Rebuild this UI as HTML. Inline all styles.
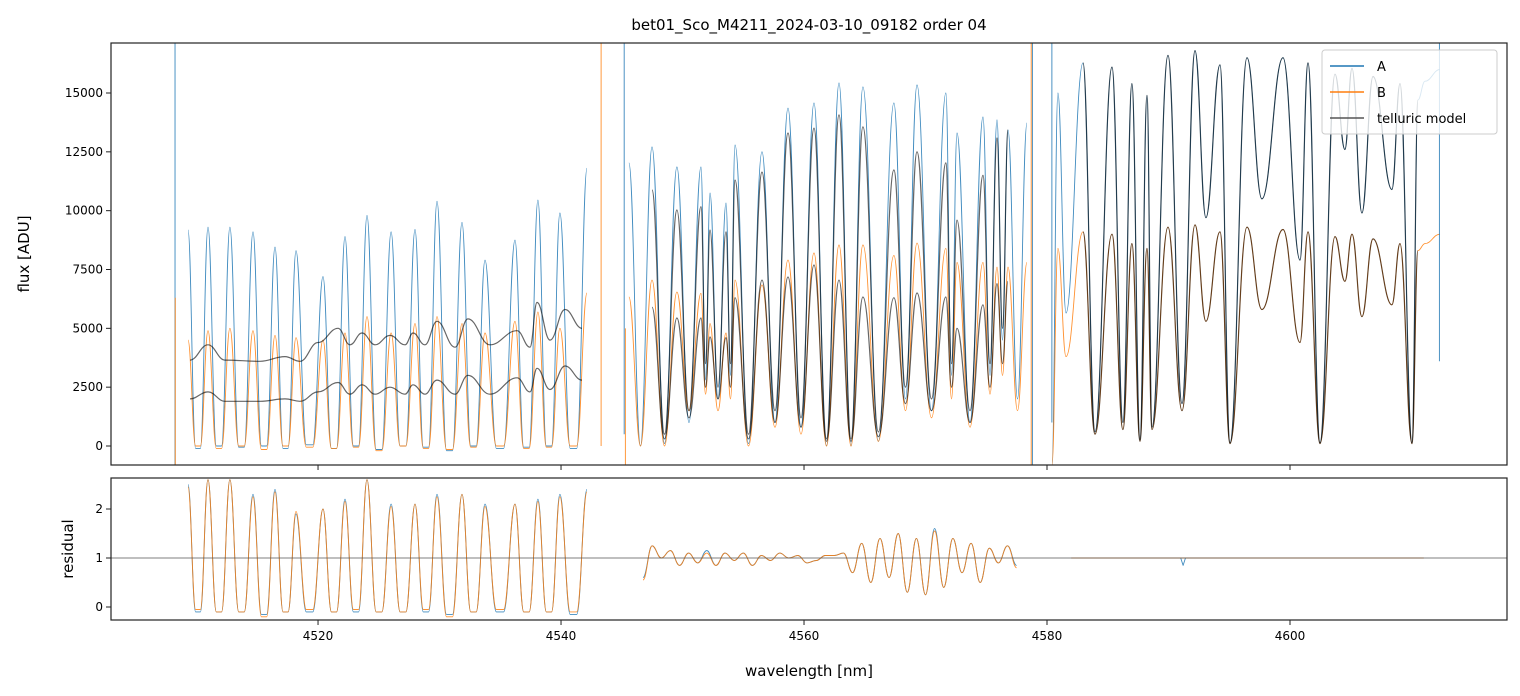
<!DOCTYPE html>
<html><head><meta charset="utf-8">
<style>
html,body{margin:0;padding:0;background:#fff;}
svg{display:block;font-family:"DejaVu Sans","Liberation Sans",sans-serif;}
</style></head>
<body>
<svg id="chart" width="1520" height="696" viewBox="0 0 1520 696" xmlns="http://www.w3.org/2000/svg">
<defs>
<clipPath id="clipTop"><rect x="111" y="43" width="1396" height="422"/></clipPath>
<clipPath id="clipBot"><rect x="111" y="478" width="1396" height="142"/></clipPath>
</defs>
<text x="809" y="30" font-size="15" text-anchor="middle">bet01_Sco_M4211_2024-03-10_09182  order 04</text>
<g id="topMarks" clip-path="url(#clipTop)"></g>
<g id="botMarks" clip-path="url(#clipBot)"></g>
<g id="axes"></g>
<text transform="translate(29,254) rotate(-90)" font-size="15" text-anchor="middle">flux [ADU]</text>
<text transform="translate(73,549) rotate(-90)" font-size="15" text-anchor="middle">residual</text>
<text x="809" y="676" font-size="15" text-anchor="middle">wavelength [nm]</text>
<g>
<rect x="1322" y="50" width="175" height="84" rx="3" fill="#fff" fill-opacity="0.8" stroke="#ccc" stroke-width="1"/>
<line x1="1330" y1="66" x2="1364" y2="66" stroke="#1f77b4" stroke-width="1.5"/>
<text x="1377" y="71" font-size="13">A</text>
<line x1="1330" y1="92" x2="1364" y2="92" stroke="#ff7f0e" stroke-width="1.5"/>
<text x="1377" y="97" font-size="13">B</text>
<line x1="1330" y1="118" x2="1364" y2="118" stroke="#555" stroke-width="1.5"/>
<text x="1377" y="123" font-size="13">telluric model</text>
</g>
</svg>
<script>
// ---------- axis ticks ----------
const xTicks = [4520, 4540, 4560, 4580, 4600];
const yTicksTop = [0, 2500, 5000, 7500, 10000, 12500, 15000];
const yTicksBot = [0, 1, 2];

// ---------- segment 1 (fringe region) ----------
const seg1PeakWl = [4509.30,4510.94,4512.75,4514.65,4516.46,4518.19,4520.41,4522.22,4524.03,4526.01,4527.98,4529.79,4531.85,4533.74,4536.21,4538.10,4539.91,4542.14];
const seg1PeakA = [9180,9300,9300,9100,8450,8300,7200,8900,9800,9100,9200,10400,9500,7900,8750,10450,9900,11800];
const seg1TroughA = [-100,0,-50,0,-100,50,-100,0,-150,0,-50,-200,0,-100,-50,0,-100];
const seg1PeakB = [4500,4900,5000,4900,4700,4600,4500,4800,5500,4800,5200,5500,5200,4800,5300,5700,5000,6500];
const seg1TroughB = [0,-100,0,-150,0,-50,-100,-50,-200,0,-100,-150,-50,0,-100,-50,0];
const tell1Wl = [4509.46,4510.94,4512.34,4515.22,4517.28,4518.52,4520.00,4521.64,4522.63,4523.62,4524.69,4525.92,4527.16,4527.82,4528.80,4529.79,4531.27,4532.34,4534.15,4536.38,4537.45,4538.02,4539.09,4540.33,4541.73];
const tell1Upper = [3650,4300,3650,3600,3800,3600,4400,5000,4300,4800,4300,4700,4300,4800,4300,5300,4200,5400,4300,4900,4200,6100,4500,5800,5000];
const tell1Lower = [2000,2300,1900,1900,2000,1900,2300,2700,2200,2600,2200,2500,2200,2600,2200,2800,2200,3000,2200,2900,2300,3300,2400,3400,2800];

// ---------- segment 2 ----------
const seg2PeakWl = [4545.59,4547.49,4549.54,4551.52,4552.26,4553.58,4554.32,4556.54,4558.68,4560.82,4562.88,4564.85,4567.40,4569.30,4571.68,4572.59,4574.73,4575.88,4576.79,4578.35];
const seg2PeakA = [12030,12710,11860,11860,10750,10330,12790,12500,14360,14580,15430,15260,14580,15340,15000,13300,13980,13860,13430,13730];
const seg2TroughA = [0,100,1000,2800,2000,3000,100,1000,800,0,0,200,2000,1500,3000,1000,3000,4500,2000];
const seg2PeakB = [6330,7050,6540,6490,5200,4800,7050,6840,7900,8200,8540,8540,8100,8620,8400,7800,7800,7600,7600,7800];
const seg2TroughB = [0,0,1500,2200,1500,2000,0,800,500,0,0,200,1500,1200,2000,800,2200,3000,1500];
const tell2PeakUpper = [10880,10030,10170,9180,9100,11300,11640,13300,13510,14070,13560,11730,12500,12030,9600,11500,13090,13430];
const tell2TroughUpper = [500,1500,3500,2500,3500,500,1500,1200,300,300,600,2500,2000,3500,1500,3500,5000];
const tell2PeakLower = [5900,5440,5440,4630,4600,6300,7050,7180,7690,7050,6330,6300,6500,6330,5000,6000,6900,7000];
const tell2TroughLower = [300,1200,2500,2000,2500,300,1000,800,200,200,400,1800,1500,2500,1000,2500,3500];

// ---------- segment 3 ----------
const seg3Wl = [4580.41,4580.90,4581.56,4582.96,4583.95,4585.35,4586.25,4586.99,4587.65,4588.23,4588.64,4589.96,4591.11,4592.18,4593.08,4594.24,4595.06,4596.46,4597.69,4599.42,4600.82,4601.48,4602.47,4603.70,4604.52,4605.10,4605.92,4606.83,4608.39,4609.05,4610.04,4610.53,4611.11,4612.34];
const seg3A = [-800,15000,5650,16280,600,16100,1000,15400,250,14900,800,16600,1800,16800,9700,16200,130,16500,10500,16500,7900,16280,130,15800,12600,16050,9900,15700,10900,15400,130,14700,15500,16000];
const seg3B = [-800,8400,3800,9100,500,9000,700,8600,200,8400,700,9300,1500,9400,5300,9100,100,9300,5800,9200,4400,9100,100,8900,7000,9000,5500,8800,6000,8600,100,8300,8600,9000];

// ---------- residuals ----------
const res1PeakA = [2.5,2.6,2.6,2.3,2.4,1.9,2.0,2.2,2.6,2.1,2.1,2.3,2.3,2.1,2.1,2.2,2.3,2.4];
const res1TroughA = [-0.1,-0.1,-0.1,-0.15,-0.1,-0.1,-0.1,-0.1,-0.1,-0.1,-0.1,-0.15,-0.1,-0.1,-0.1,-0.1,-0.15];
const res1PeakB = [2.45,2.6,2.6,2.25,2.35,1.95,2.0,2.15,2.6,2.05,2.1,2.25,2.3,2.05,2.1,2.15,2.25,2.35];
const res1TroughB = [-0.05,-0.1,-0.1,-0.2,-0.1,-0.05,-0.1,-0.05,-0.1,-0.1,-0.05,-0.2,-0.1,-0.05,-0.1,-0.1,-0.1];
const res2Start = 4546.75, res2Step = 0.75;
const res2A = [0.6,1.25,1.0,1.15,0.85,1.1,0.9,1.15,0.85,1.1,0.95,1.1,0.85,1.05,0.95,1.1,1.0,1.05,0.9,0.95,1.05,1.05,1.1,0.7,1.3,0.5,1.4,0.6,1.5,0.3,1.4,0.25,1.6,0.4,1.4,0.7,1.3,0.5,1.2,0.9,1.25,0.85];
const res2B = [0.55,1.25,1.0,1.15,0.85,1.1,0.9,1.1,0.85,1.1,0.95,1.1,0.85,1.05,0.95,1.1,1.0,1.05,0.9,0.95,1.05,1.05,1.1,0.7,1.3,0.5,1.4,0.6,1.5,0.3,1.4,0.25,1.55,0.4,1.4,0.7,1.3,0.5,1.2,0.9,1.25,0.8];
const res3Wl = [4582.0, 4591.0, 4591.2, 4591.4, 4611.0];
const res3A = [1.0, 1.0, 0.85, 1.0, 1.0];

// ---------- vertical spikes ----------
const spikeWl = [4508.23,4508.25,4543.30,4545.20,4545.30,4578.80,4578.70,4580.40,4612.30];
const spikeLo = [-900,-900,0,500,-900,-900,-900,1000,3600];
const spikeHi = [17200,6300,17200,17200,5000,17200,17200,17200,17200];
const spikeSeries = ['A','B','B','A','B','A','B','A','A'];

// ---------- scales ----------
const X0 = 111, X1 = 1507, WL0 = 4502.96, WL1 = 4617.86;
const xs = w => X0 + (w - WL0) / (WL1 - WL0) * (X1 - X0);
const ysTop = v => 446 - v * 0.023533;
const ysBot = v => 607 - v * 49;

const NS = 'http://www.w3.org/2000/svg';
const topG = document.getElementById('topMarks');
const botG = document.getElementById('botMarks');
const axG = document.getElementById('axes');
const COL = {A:'#1f77b4', B:'#ff7f0e', T:'#000'};

function interleave(peakWl, peaks, troughs) {
  const pts = [];
  for (let i = 0; i < peaks.length; i++) {
    pts.push([peakWl[i], peaks[i]]);
    if (i < troughs.length && i + 1 < peakWl.length) pts.push([(peakWl[i] + peakWl[i + 1]) / 2, troughs[i]]);
  }
  return pts;
}
function interleaveFlat(peakWl, peaks, troughs) {
  const pts = [];
  for (let i = 0; i < peaks.length; i++) {
    pts.push([peakWl[i], peaks[i]]);
    if (i < troughs.length && i + 1 < peakWl.length) {
      const a = peakWl[i], b = peakWl[i + 1];
      pts.push([a + (b - a) * 0.38, troughs[i]]);
      pts.push([a + (b - a) * 0.62, troughs[i]]);
    }
  }
  return pts;
}
// extremum-to-extremum cubic with horizontal tangents (no overshoot)
function smoothPath(pts, ys) {
  const p = pts.map(d => [xs(d[0]), ys(d[1])]);
  let s = 'M' + p[0][0].toFixed(1) + ',' + p[0][1].toFixed(1);
  for (let i = 0; i < p.length - 1; i++) {
    const a = p[i], b = p[i + 1], dx = (b[0] - a[0]) * 0.42;
    s += 'C' + (a[0] + dx).toFixed(1) + ',' + a[1].toFixed(1) + ' ' + (b[0] - dx).toFixed(1) + ',' + b[1].toFixed(1) + ' ' + b[0].toFixed(1) + ',' + b[1].toFixed(1);
  }
  return s;
}
function linePath(pts, ys) {
  return pts.map((d, i) => (i ? 'L' : 'M') + xs(d[0]).toFixed(1) + ',' + ys(d[1]).toFixed(1)).join('');
}
function addPath(g, d, color, width, opacity, name) {
  const el = document.createElementNS(NS, 'path');
  el.setAttribute('d', d);
  el.setAttribute('fill', 'none');
  el.setAttribute('stroke', color);
  el.setAttribute('stroke-width', width);
  el.setAttribute('stroke-opacity', opacity);
  el.setAttribute('stroke-linejoin', 'round');
  
  
  g.appendChild(el);
}
function addLine(g, x1, y1, x2, y2, color, width, name) {
  const el = document.createElementNS(NS, 'line');
  el.setAttribute('x1', x1); el.setAttribute('y1', y1);
  el.setAttribute('x2', x2); el.setAttribute('y2', y2);
  el.setAttribute('stroke', color); el.setAttribute('stroke-width', width);
  
  
  g.appendChild(el);
}
function addText(g, x, y, txt, anchor, name) {
  const el = document.createElementNS(NS, 'text');
  el.setAttribute('x', x); el.setAttribute('y', y);
  el.setAttribute('font-size', '12');
  el.setAttribute('text-anchor', anchor);
  el.textContent = txt;
  
  
  g.appendChild(el);
}

// ----- top panel -----
addPath(topG, smoothPath(interleaveFlat(seg1PeakWl, seg1PeakA, seg1TroughA), ysTop), COL.A, 0.9, 0.85, 'flux-a-seg1');
addPath(topG, smoothPath(interleaveFlat(seg1PeakWl, seg1PeakB, seg1TroughB), ysTop), COL.B, 0.9, 0.85, 'flux-b-seg1');
addPath(topG, smoothPath(interleave(seg2PeakWl, seg2PeakA, seg2TroughA), ysTop), COL.A, 0.9, 0.85, 'flux-a-seg2');
addPath(topG, smoothPath(interleave(seg2PeakWl, seg2PeakB, seg2TroughB), ysTop), COL.B, 0.9, 0.85, 'flux-b-seg2');
addPath(topG, smoothPath(seg3Wl.map((w, i) => [w, seg3A[i]]), ysTop), COL.A, 0.9, 0.85, 'flux-a-seg3');
addPath(topG, smoothPath(seg3Wl.map((w, i) => [w, seg3B[i]]), ysTop), COL.B, 0.9, 0.85, 'flux-b-seg3');
spikeWl.forEach((w, i) => {
  const el = document.createElementNS(NS, 'line');
  el.setAttribute('x1', xs(w)); el.setAttribute('x2', xs(w));
  el.setAttribute('y1', ysTop(spikeLo[i])); el.setAttribute('y2', ysTop(spikeHi[i]));
  el.setAttribute('stroke', COL[spikeSeries[i]]); el.setAttribute('stroke-width', 1);
  el.setAttribute('stroke-opacity', 0.8);
  
  
  topG.appendChild(el);
});
// telluric
addPath(topG, smoothPath(tell1Wl.map((w, i) => [w, tell1Upper[i]]), ysTop), COL.T, 1.2, 0.6, 'telluric-upper-seg1');
addPath(topG, smoothPath(tell1Wl.map((w, i) => [w, tell1Lower[i]]), ysTop), COL.T, 1.2, 0.6, 'telluric-lower-seg1');
const tell2Wl = seg2PeakWl.slice(1, 19);
addPath(topG, smoothPath(interleave(tell2Wl, tell2PeakUpper, tell2TroughUpper), ysTop), COL.T, 1.2, 0.6, 'telluric-upper-seg2');
addPath(topG, smoothPath(interleave(tell2Wl, tell2PeakLower, tell2TroughLower), ysTop), COL.T, 1.2, 0.6, 'telluric-lower-seg2');
addPath(topG, smoothPath(seg3Wl.slice(3, 32).map((w, i) => [w, seg3A[i + 3]]), ysTop), COL.T, 1.2, 0.6, 'telluric-upper-seg3');
addPath(topG, smoothPath(seg3Wl.slice(3, 32).map((w, i) => [w, seg3B[i + 3]]), ysTop), COL.T, 1.2, 0.6, 'telluric-lower-seg3');

// ----- bottom panel -----
addPath(botG, smoothPath(interleaveFlat(seg1PeakWl, res1PeakA, res1TroughA), ysBot), COL.A, 0.9, 0.85, 'residual-a-seg1');
addPath(botG, smoothPath(interleaveFlat(seg1PeakWl, res1PeakB, res1TroughB), ysBot), COL.B, 0.9, 0.85, 'residual-b-seg1');
addPath(botG, smoothPath(res2A.map((v, i) => [res2Start + i * res2Step, v]), ysBot), COL.A, 0.9, 0.85, 'residual-a-seg2');
addPath(botG, smoothPath(res2B.map((v, i) => [res2Start + i * res2Step, v]), ysBot), COL.B, 0.9, 0.85, 'residual-b-seg2');
addPath(botG, linePath(res3Wl.map((w, i) => [w, res3A[i]]), ysBot), COL.A, 0.9, 0.85, 'residual-a-seg3');
addPath(botG, linePath([[res3Wl[0], 1.0], [res3Wl[res3Wl.length - 1], 1.0]], ysBot), COL.B, 0.9, 0.85, 'residual-b-seg3');
addLine(botG, X0, ysBot(1), X1, ysBot(1), '#555', 0.8, 'residual-unity-line');

// ----- axes frames & ticks -----
[[43, 465], [478, 620]].forEach(([t, b], k) => {
  const r = document.createElementNS(NS, 'rect');
  r.setAttribute('x', X0); r.setAttribute('y', t);
  r.setAttribute('width', X1 - X0); r.setAttribute('height', b - t);
  r.setAttribute('fill', 'none'); r.setAttribute('stroke', '#222'); r.setAttribute('stroke-width', 1.2);
  
  
  axG.appendChild(r);
});
xTicks.forEach(t => {
  const x = xs(t);
  addLine(axG, x, 465, x, 470, '#222', 1, 'x-tick-top-panel');
  addLine(axG, x, 620, x, 625, '#222', 1, 'x-tick');
  addText(axG, x, 640, String(t), 'middle', 'x-tick-label');
});
yTicksTop.forEach(t => {
  const y = ysTop(t);
  addLine(axG, 106, y, 111, y, '#222', 1, 'y-tick-flux');
  addText(axG, 103, y + 4, String(t), 'end', 'y-tick-label-flux');
});
yTicksBot.forEach(t => {
  const y = ysBot(t);
  addLine(axG, 106, y, 111, y, '#222', 1, 'y-tick-residual');
  addText(axG, 103, y + 4, String(t), 'end', 'y-tick-label-residual');
});
</script>
</body></html>
